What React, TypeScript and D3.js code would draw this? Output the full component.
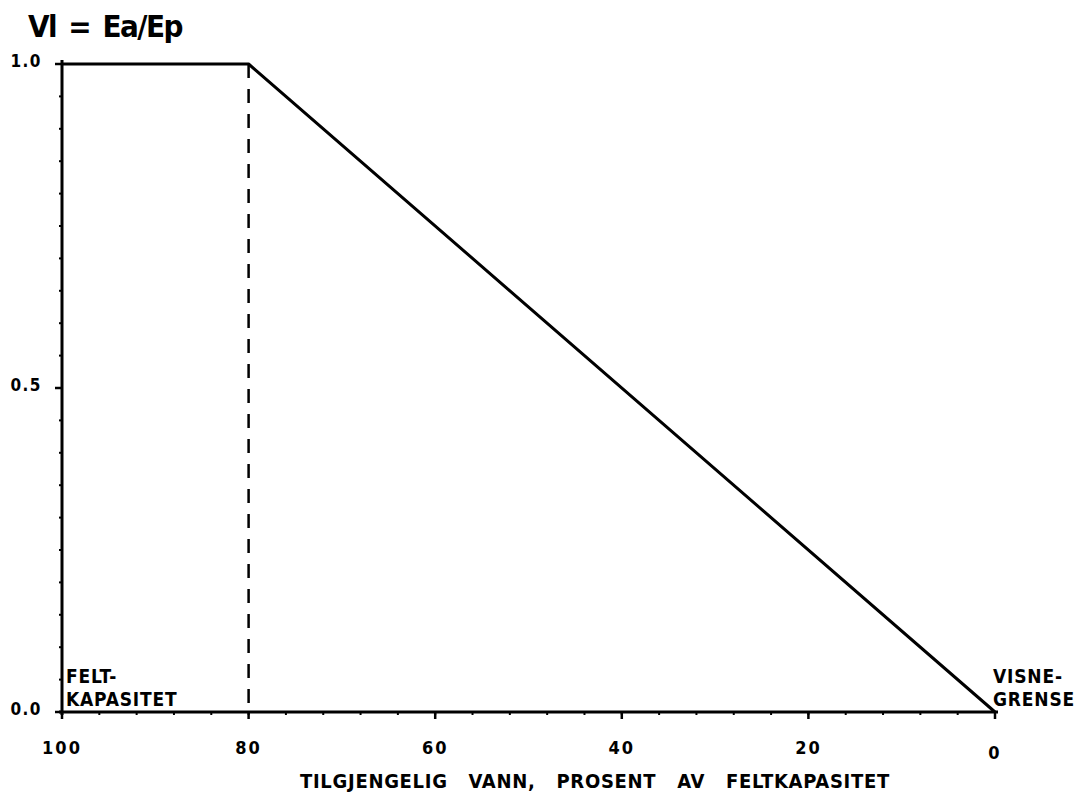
import React, {useRef, useEffect} from 'react';
import * as d3 from 'd3';

// available water, percent of field capacity (x) against Ea/Ep (y)
const waterPct = [100, 80, 0];
const ratio = [1.0, 1.0, 0.0];
const xTicks = [100, 80, 60, 40, 20, 0];
const xTickLabels = ['100', '80', '60', '40', '20', '0'];
const yTicks = [0.0, 0.5, 1.0];
const yTickLabels = ['0.0', '0.5', '1.0'];
const breakPoint = 80;

const FONT = '"DejaVu Sans Condensed", "DejaVu Sans", sans-serif';

export default function App(){

    const svgRef = useRef<SVGSVGElement>(null);

    useEffect(() => {
        const svg = d3.select(svgRef.current);
        svg.selectAll('*').remove();

        const width = 1083;
        const height = 805;
        const margin = {top: 64, right: 88, bottom: 93, left: 62};

        const x = d3.scaleLinear().domain([100, 0]).range([margin.left, width - margin.right]);
        const y = d3.scaleLinear().domain([0, 1]).range([height - margin.bottom, margin.top]);

        const g = svg.append('g');

        // title
        g.append('text')
            .attr('x', 28).attr('y', 37)
            .attr('font-family', FONT).attr('font-weight', 'bold')
            .attr('font-size', 31).attr('letter-spacing', -1.5)
            .attr('word-spacing', 4)
            .text('Vl = Ea/Ep');

        // y axis
        const yAxis = g.append('g').attr('transform', `translate(${x(100)},0)`);
        yAxis.append('line')
            .attr('y1', y(1) - 4).attr('y2', y(0) + 3)
            .attr('stroke', '#000').attr('stroke-width', 3);
        yAxis.selectAll('line.minor')
            .data(d3.range(0, 1.0001, 0.05))
            .join('line').attr('class', 'minor')
            .attr('x1', -3).attr('x2', 0)
            .attr('y1', d => y(d)).attr('y2', d => y(d))
            .attr('stroke', '#000').attr('stroke-width', 2);
        yAxis.selectAll('line.major')
            .data(yTicks)
            .join('line').attr('class', 'major')
            .attr('x1', -7).attr('x2', 0)
            .attr('y1', d => y(d)).attr('y2', d => y(d))
            .attr('stroke', '#000').attr('stroke-width', 2.5);
        yAxis.selectAll('text')
            .data(yTicks)
            .join('text')
            .attr('x', -20).attr('y', d => y(d) - 3)
            .attr('dy', '0.35em')
            .attr('text-anchor', 'end')
            .attr('font-family', FONT).attr('font-weight', 'bold')
            .attr('font-size', 17).attr('letter-spacing', 1.5)
            .text((d, i) => yTickLabels[i]);

        // x axis
        const xAxis = g.append('g').attr('transform', `translate(0,${y(0)})`);
        xAxis.append('line')
            .attr('x1', x(100) - 3).attr('x2', x(0) + 3)
            .attr('stroke', '#000').attr('stroke-width', 3);
        xAxis.selectAll('line.minor')
            .data(d3.range(0, 100.001, 4))
            .join('line').attr('class', 'minor')
            .attr('x1', d => x(d)).attr('x2', d => x(d))
            .attr('y1', 0).attr('y2', 3)
            .attr('stroke', '#000').attr('stroke-width', 2);
        xAxis.selectAll('line.major')
            .data(xTicks)
            .join('line').attr('class', 'major')
            .attr('x1', d => x(d)).attr('x2', d => x(d))
            .attr('y1', 0).attr('y2', 7)
            .attr('stroke', '#000').attr('stroke-width', 2.5);
        xAxis.selectAll('text')
            .data(xTicks)
            .join('text')
            .attr('x', d => x(d)).attr('y', d => d === 0 ? 47 : 42)
            .attr('text-anchor', 'middle')
            .attr('font-family', FONT).attr('font-weight', 'bold')
            .attr('font-size', 18).attr('letter-spacing', 2)
            .text((d, i) => xTickLabels[i]);

        // axis title
        g.append('text')
            .attr('x', 300).attr('y', 788)
            .attr('font-family', FONT).attr('font-weight', 'bold')
            .attr('font-size', 20).attr('letter-spacing', 0.7)
            .attr('word-spacing', 14)
            .text('TILGJENGELIG VANN, PROSENT AV FELTKAPASITET');

        // corner labels
        const corner = (lx: number, lines: string[]) => {
            lines.forEach((t, i) => {
                g.append('text')
                    .attr('x', lx).attr('y', 683 + i * 23)
                    .attr('font-family', FONT).attr('font-weight', 'bold')
                    .attr('font-size', 19).attr('letter-spacing', 0.8)
                    .text(t);
            });
        };
        corner(x(100) + 4, ['FELT-', 'KAPASITET']);
        corner(x(0) - 2, ['VISNE-', 'GRENSE']);

        // dashed line at the break point
        g.append('line')
            .attr('x1', x(breakPoint)).attr('x2', x(breakPoint))
            .attr('y1', y(1)).attr('y2', y(0))
            .attr('stroke', '#000').attr('stroke-width', 2.5)
            .attr('stroke-dasharray', '14,11');

        // response curve
        const line = d3.line<number>()
            .x(d => x(d))
            .y((d, i) => y(ratio[i]));
        g.append('path')
            .datum(waterPct)
            .attr('d', line)
            .attr('fill', 'none')
            .attr('stroke', '#000').attr('stroke-width', 3)
            .attr('stroke-linejoin', 'round');
    });

    return(
        <svg ref={svgRef} width={1083} height={805}
            style={{position: 'absolute', left: 0, top: 0, background: '#fff'}}/>
    );
}
